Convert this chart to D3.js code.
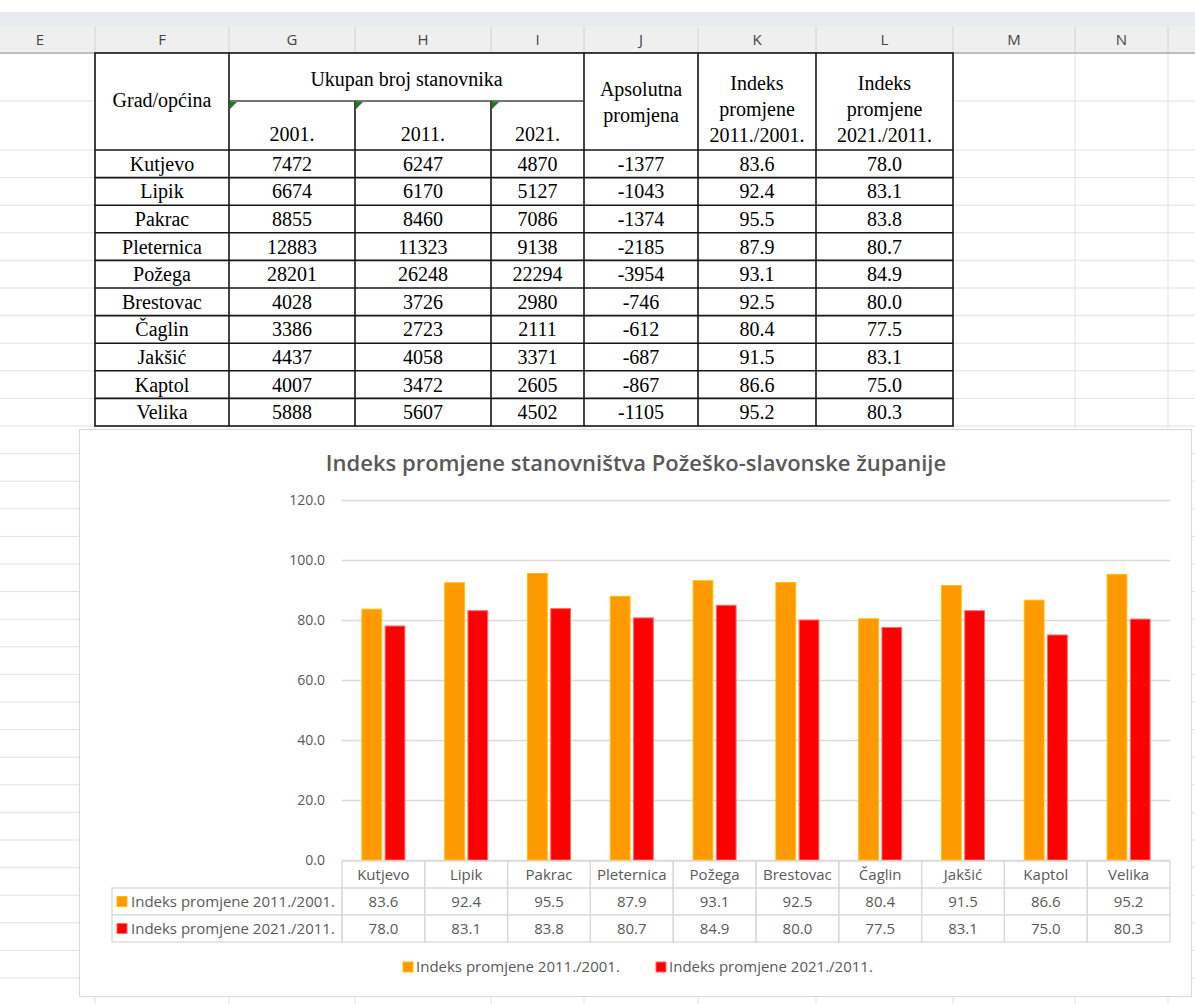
<!DOCTYPE html>
<html>
<head>
<meta charset="utf-8">
<script src="https://cdn.jsdelivr.net/npm/d3@7"></script>
<style>
  body { margin: 0; background: #fff; }
  svg { display: block; }
</style>
</head>
<body>
<script>
// table / chart data
const cities = ['Kutjevo', 'Lipik', 'Pakrac', 'Pleternica', 'Požega', 'Brestovac', 'Čaglin', 'Jakšić', 'Kaptol', 'Velika'];
const pop2001 = [7472, 6674, 8855, 12883, 28201, 4028, 3386, 4437, 4007, 5888];
const pop2011 = [6247, 6170, 8460, 11323, 26248, 3726, 2723, 4058, 3472, 5607];
const pop2021 = [4870, 5127, 7086, 9138, 22294, 2980, 2111, 3371, 2605, 4502];
const absChange = [-1377, -1043, -1374, -2185, -3954, -746, -612, -687, -867, -1105];
const idx2011 = [83.6, 92.4, 95.5, 87.9, 93.1, 92.5, 80.4, 91.5, 86.6, 95.2];
const idx2021 = [78.0, 83.1, 83.8, 80.7, 84.9, 80.0, 77.5, 83.1, 75.0, 80.3];
const seriesNames = ['Indeks promjene 2011./2001.', 'Indeks promjene 2021./2011.'];
const yTicks = [0, 20, 40, 60, 80, 100, 120];
const colLetters = ['E', 'F', 'G', 'H', 'I', 'J', 'K', 'L', 'M', 'N'];
const years = ['2001.', '2011.', '2021.'];

const chartTitle = 'Indeks promjene stanovništva Požeško-slavonske županije';
const fill = ['#ff9900', '#ff0000'];
const edge = ['#ffc000', '#ff6a6a'];
const grey = '#595959';

const W = 1195, H = 1004;
const colEdges = [-15, 95, 229, 355, 491, 584, 698, 816, 953, 1075, 1168, 1260];
const rowEdges = [53, 101, 150];
while (rowEdges[rowEdges.length - 1] < H) rowEdges.push(rowEdges[rowEdges.length - 1] + 27.6);

const svg = d3.select('body')
  .append('svg')
  .attr('width', W)
  .attr('height', H);

// ---- spreadsheet background ----
const sheet = svg.append('g').attr('class', 'sheet');

sheet.selectAll('line.row')
  .data(rowEdges.slice(1))
  .enter().append('line')
  .attr('class', 'row')
  .attr('x1', 0).attr('x2', W)
  .attr('y1', d => d).attr('y2', d => d)
  .style('stroke', '#e1e1e1');

sheet.selectAll('line.col')
  .data(colEdges.slice(1))
  .enter().append('line')
  .attr('class', 'col')
  .attr('x1', d => d).attr('x2', d => d)
  .attr('y1', 53).attr('y2', H)
  .style('stroke', '#e1e1e1');

sheet.append('rect').attr('x', 0).attr('y', 12).attr('width', W).attr('height', 14).style('fill', '#e7ebef');
sheet.append('rect').attr('x', 0).attr('y', 26).attr('width', W).attr('height', 27).style('fill', '#efefef');

sheet.selectAll('line.hsep')
  .data(colEdges.slice(1))
  .enter().append('line')
  .attr('class', 'hsep')
  .attr('x1', d => d).attr('x2', d => d)
  .attr('y1', 27).attr('y2', 53)
  .style('stroke', '#d2d2d2');

sheet.append('line')
  .attr('x1', 0).attr('x2', W).attr('y1', 53).attr('y2', 53)
  .style('stroke', '#bdbdbd').style('stroke-width', 2);

sheet.selectAll('text.letter')
  .data(colLetters)
  .enter().append('text')
  .attr('x', (d, i) => (colEdges[i] + colEdges[i + 1]) / 2)
  .attr('y', 40)
  .attr('dy', '0.35em')
  .attr('text-anchor', 'middle')
  .style('font', '15px "Open Sans"')
  .style('fill', '#444')
  .text(d => d);

// ---- the table ----
const table = svg.append('g').attr('class', 'table')
  .style('font-family', '"Liberation Serif", "Times New Roman", serif')
  .style('font-size', '20px')
  .style('fill', '#000');

const tx = colEdges.slice(1, 9); // F..L edges: 95..953
const tTop = 53, tBottom = rowEdges[12];

table.append('rect')
  .attr('x', tx[0]).attr('y', tTop)
  .attr('width', tx[7] - tx[0]).attr('height', tBottom - tTop)
  .style('fill', '#fff');

const mid = i => (tx[i] + tx[i + 1]) / 2;

table.append('text').attr('x', mid(0)).attr('y', 100).attr('dy', '0.35em').attr('text-anchor', 'middle').text('Grad/općina');
table.append('text').attr('x', (tx[1] + tx[4]) / 2).attr('y', 79).attr('dy', '0.35em').attr('text-anchor', 'middle').text('Ukupan broj stanovnika');

table.selectAll('text.year')
  .data(years)
  .enter().append('text')
  .attr('x', (d, i) => mid(i + 1))
  .attr('y', 134)
  .attr('dy', '0.35em')
  .attr('text-anchor', 'middle')
  .text(d => d);

const headLines = [
  [mid(4), ['Apsolutna', 'promjena'], 89],
  [mid(5), ['Indeks', 'promjene', '2011./2001.'], 83],
  [mid(6), ['Indeks', 'promjene', '2021./2011.'], 83]
];
headLines.forEach(([x, lines, y0]) => {
  lines.forEach((s, k) => {
    table.append('text').attr('x', x).attr('y', y0 + k * 26).attr('dy', '0.35em')
      .attr('text-anchor', 'middle').text(s);
  });
});

// green "number as text" markers
table.selectAll('path.flag')
  .data([1, 2, 3])
  .enter().append('path')
  .attr('d', i => `M${tx[i] + 1},102L${tx[i] + 8},102L${tx[i] + 1},109Z`)
  .style('fill', '#1f7a1f');

const rows = cities.map((c, i) => [c, pop2001[i], pop2011[i], pop2021[i], absChange[i], idx2011[i].toFixed(1), idx2021[i].toFixed(1)]);

rows.forEach((r, ri) => {
  const yc = (rowEdges[ri + 2] + rowEdges[ri + 3]) / 2;
  table.selectAll(null)
    .data(r)
    .enter().append('text')
    .attr('x', (d, ci) => mid(ci))
    .attr('y', yc)
    .attr('dy', '0.35em')
    .attr('text-anchor', 'middle')
    .text(d => d);
});

// borders
const border = table.append('g').style('stroke', '#151515').style('stroke-width', 1.6).style('fill', 'none');
border.append('rect').attr('x', tx[0]).attr('y', tTop).attr('width', tx[7] - tx[0]).attr('height', tBottom - tTop);
[1, 4, 5, 6].forEach(i => border.append('line').attr('x1', tx[i]).attr('x2', tx[i]).attr('y1', tTop).attr('y2', tBottom));
[2, 3].forEach(i => border.append('line').attr('x1', tx[i]).attr('x2', tx[i]).attr('y1', 101).attr('y2', tBottom));
border.append('line').attr('x1', tx[1]).attr('x2', tx[4]).attr('y1', 101).attr('y2', 101).style('stroke', '#444');
rowEdges.slice(2, 12).forEach(y => border.append('line').attr('x1', tx[0]).attr('x2', tx[7]).attr('y1', y).attr('y2', y));

// ---- the chart ----
const chart = svg.append('g').attr('class', 'chart')
  .style('font-family', '"Open Sans", sans-serif');

chart.append('rect')
  .attr('x', 79.5).attr('y', 429.5)
  .attr('width', 1112).attr('height', 567)
  .style('fill', '#fff')
  .style('stroke', '#d9d9d9');

chart.append('text')
  .attr('x', 636).attr('y', 463).attr('dy', '0.35em')
  .attr('text-anchor', 'middle')
  .style('font-size', '22px')
  .style('font-weight', 600)
  .style('fill', grey)
  .text(chartTitle);

const y = d3.scaleLinear().domain([0, 120]).range([860, 500]);
const x0 = d3.scaleBand().domain(cities).range([342, 1170]);
const x1 = d3.scaleBand().domain(seriesNames).range([-21.5, 21.5]).paddingInner(0.15);

const yAxis = chart.append('g')
  .attr('transform', 'translate(342,0)')
  .call(d3.axisLeft(y).tickValues(yTicks).tickSize(-(1170 - 342)).tickPadding(17).tickFormat(d3.format('.1f')));
yAxis.select('.domain').remove();
yAxis.selectAll('.tick line').style('stroke', '#d9d9d9').style('stroke-width', 1.3);
yAxis.selectAll('.tick text').style('fill', grey).style('font-size', '14px').style('font-family', '"Open Sans", sans-serif');

const seriesVals = [idx2011, idx2021];
seriesVals.forEach((vals, si) => {
  chart.append('g')
    .selectAll('rect')
    .data(vals)
    .enter().append('rect')
    .attr('x', (d, i) => x0(cities[i]) + x0.bandwidth() / 2 + x1(seriesNames[si]))
    .attr('y', d => y(d))
    .attr('width', x1.bandwidth())
    .attr('height', d => y(0) - y(d))
    .style('fill', fill[si])
    .style('stroke', edge[si])
    .style('stroke-width', 1);
});

// data table under the plot
const dt = chart.append('g').style('font-size', '15px');
const rowY = [861, 888, 915, 942];
const cell = dt.append('g').style('fill', 'none').style('stroke', '#d9d9d9').style('stroke-width', 1.3);

cities.forEach(c => {
  cell.append('rect').attr('x', x0(c)).attr('y', rowY[0]).attr('width', x0.bandwidth()).attr('height', rowY[3] - rowY[0]);
});
cell.append('rect').attr('x', 112).attr('y', rowY[1]).attr('width', 342 - 112).attr('height', rowY[3] - rowY[1]);
cell.append('line').attr('x1', 112).attr('x2', 1170).attr('y1', rowY[2]).attr('y2', rowY[2]);
cell.append('line').attr('x1', 342).attr('x2', 1170).attr('y1', rowY[1]).attr('y2', rowY[1]);

dt.selectAll('text.cat')
  .data(cities)
  .enter().append('text')
  .attr('x', d => x0(d) + x0.bandwidth() / 2)
  .attr('y', (rowY[0] + rowY[1]) / 2)
  .attr('dy', '0.35em')
  .attr('text-anchor', 'middle')
  .style('fill', grey)
  .text(d => d);

seriesVals.forEach((vals, si) => {
  const yc = (rowY[si + 1] + rowY[si + 2]) / 2;
  dt.append('rect')
    .attr('x', 117).attr('y', yc - 5)
    .attr('width', 10).attr('height', 10)
    .style('fill', fill[si]).style('stroke', edge[si]);
  dt.append('text')
    .attr('x', 131).attr('y', yc).attr('dy', '0.35em')
    .style('fill', grey)
    .text(seriesNames[si]);
  dt.selectAll(null)
    .data(vals)
    .enter().append('text')
    .attr('x', (d, i) => x0(cities[i]) + x0.bandwidth() / 2)
    .attr('y', yc)
    .attr('dy', '0.35em')
    .attr('text-anchor', 'middle')
    .style('fill', grey)
    .text(d => d.toFixed(1));
});

// legend
const legend = chart.append('g').style('font-size', '15px');
const legendX = [403, 656];
seriesNames.forEach((s, si) => {
  legend.append('rect')
    .attr('x', legendX[si]).attr('y', 962)
    .attr('width', 10).attr('height', 10)
    .style('fill', fill[si]).style('stroke', edge[si]);
  legend.append('text')
    .attr('x', legendX[si] + 13).attr('y', 967).attr('dy', '0.35em')
    .style('fill', grey)
    .text(s);
});
</script>
</body>
</html>
